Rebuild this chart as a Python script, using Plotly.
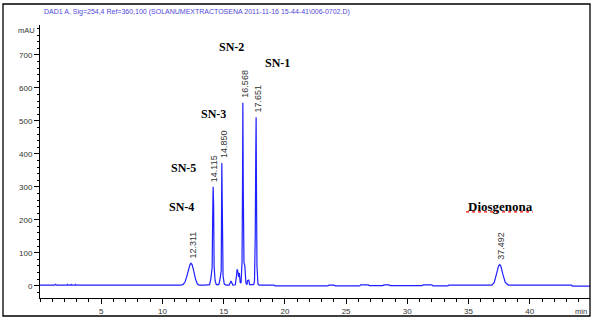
import plotly.graph_objects as go

# ---------------- data ----------------
time_min = [0, 1.2, 1.27, 1.35, 2.2, 2.25, 2.3, 2.5, 2.55, 2.6, 2.85, 2.9, 2.95,
            6.4, 6.5, 7.0, 7.1, 8.1, 8.2, 8.3, 9.9, 10.0, 10.4, 10.5, 11.5, 11.7,
            11.85, 12.0, 12.15, 12.25, 12.33, 12.42, 12.55, 12.7, 12.85, 13.0,
            13.5, 13.85, 13.95, 14.02, 14.06, 14.1, 14.14, 14.18, 14.22, 14.3, 14.4, 14.6,
            14.68, 14.74, 14.8, 14.85, 14.9, 14.95, 15.05, 15.2,
            15.45, 15.6, 15.75, 15.95, 16.05, 16.1, 16.18, 16.22, 16.28, 16.35, 16.42,
            16.47, 16.5, 16.54, 16.568, 16.6, 16.66, 16.73, 16.82, 16.9,
            16.95, 17.05, 17.12, 17.45, 17.52, 17.58, 17.62, 17.651, 17.68, 17.72, 17.8, 17.9,
            19.1, 19.2, 23.5, 23.6, 24.0, 24.1, 26.1, 26.2, 26.8, 26.9, 28.0, 28.1, 28.5, 28.6,
            31.2, 31.3, 32.0, 32.1, 33.3, 33.4, 36.9, 37.1, 37.3, 37.45, 37.55, 37.65, 37.8,
            38.0, 38.25, 43.4, 43.5, 45.0]
absorbance_mau = [1.5, 1.5, 4, 1.5, 1.5, 4, 1.5, 1.5, 4, 1.5, 1.5, 4, 1.5,
                  1.5, 3.5, 3.5, 1.5, 1.5, 3.5, 1.5, 1.5, 3, 3, 1.5, 1.5, 4,
                  12, 30, 52, 64, 68, 64, 46, 20, 5, 1.5,
                  2, 3, 20, 50, 55, 200, 300, 250, 60, 15, 3, 3,
                  15, 40, 45, 372, 200, 30, 5, 2,
                  2, 14, 2, 3, 30, 50, 40, 27, 38, 10, 8,
                  40, 70, 300, 555, 300, 70, 60, 8, 3,
                  15, 17, 3, 3, 15, 150, 391, 511, 300, 60, 5, 2,
                  1.5, -0.5, -0.5, 1.5, 1.5, -0.5, -0.5, 2.5, 2.5, 0.5, 0.5, 2.5, 2.5, 0.5,
                  0.5, 2.5, 2.5, -0.5, -0.5, 1.5, 2, 10, 38, 60, 64, 58, 35,
                  10, 2, 1.5, -1, -1]

peak_times = [12.311, 14.115, 14.850, 16.568, 17.651, 37.492]
peak_heights = [68, 300, 372, 555, 511, 64]
peak_labels = ["12.311", "14.115", "14.850", "16.568", "17.651", "37.492"]

compound_names = ["SN-2", "SN-1", "SN-3", "SN-5", "SN-4", "Diosgenona"]
compound_x = [15.6, 19.4, 14.17, 11.72, 11.56, 37.57]
compound_y = [724, 677, 522, 358, 239, 239]

x_tick_vals = [5, 10, 15, 20, 25, 30, 35, 40]
y_tick_vals = [0, 100, 200, 300, 400, 500, 600, 700]

title_text = "DAD1 A, Sig=254,4 Ref=360,100 (SOLANUMEXTRACTOSENA 2011-11-16 15-44-41\\006-0702.D)"

# ---------------- layout helpers ----------------
W, H = 595, 322
L, R, T, B = 40, 5, 25, 24
PW, PH = W - L - R, H - T - B


def px_x(px):
    return (px - L) / PW


def px_y(py):
    return (H - B - py) / PH


sans = "Liberation Sans, Arial, sans-serif"
serif = "Liberation Serif, Times New Roman, serif"

fig = go.Figure()
fig.add_trace(go.Scatter(x=time_min, y=absorbance_mau, mode="lines",
                         line=dict(color="#1f1fff", width=1.2),
                         hoverinfo="skip", showlegend=False))

annotations = []
for t, h, lab in zip(peak_times, peak_heights, peak_labels):
    annotations.append(dict(x=t, y=h, text=lab, textangle=-90, showarrow=False,
                            xanchor="center", yanchor="bottom", xshift=2, yshift=3,
                            font=dict(family=sans, size=9, color="#333333")))
for name, cx, cy in zip(compound_names, compound_x, compound_y):
    annotations.append(dict(x=cx, y=cy, text="<b>" + name + "</b>", showarrow=False,
                            xanchor="center", yanchor="middle",
                            font=dict(family=serif, size=12 if name != "Diosgenona" else 13,
                                      color="black")))
annotations.append(dict(xref="paper", yref="paper", x=px_x(41.5), y=px_y(12.5),
                        text=title_text, showarrow=False, xanchor="left", yanchor="middle",
                        font=dict(family=sans, size=7, color="#5048d8")))
annotations.append(dict(xref="paper", yref="paper", x=px_x(26), y=px_y(30),
                        text="mAU", showarrow=False, xanchor="center", yanchor="middle",
                        font=dict(family=sans, size=7.5, color="#333333")))
annotations.append(dict(xref="paper", yref="paper", x=px_x(589), y=px_y(311),
                        text="min", showarrow=False, xanchor="right", yanchor="middle",
                        font=dict(family=sans, size=7.5, color="#333333")))

shapes = [
    dict(type="rect", xref="paper", yref="paper", x0=px_x(3), x1=px_x(590),
         y0=px_y(316), y1=px_y(4), line=dict(color="black", width=1.3)),
    dict(type="line", xref="x", yref="y", x0=34.8, x1=40.25, y0=224, y1=224,
         line=dict(color="red", width=1.3, dash="dot")),
]

fig.update_layout(
    template="none",
    width=W, height=H,
    margin=dict(l=L, r=R, t=T, b=B, pad=0, autoexpand=False),
    paper_bgcolor="white", plot_bgcolor="white",
    annotations=annotations, shapes=shapes,
    xaxis=dict(range=[0, 44.92], automargin=False, showline=True, linecolor="black",
               linewidth=1, showgrid=False, zeroline=False, ticks="outside", ticklen=5,
               tickcolor="black", tickwidth=1, tickvals=x_tick_vals,
               tickfont=dict(family=sans, size=8, color="#333333"),
               minor=dict(dtick=1, ticks="outside", ticklen=3, tickcolor="black",
                          showgrid=False)),
    yaxis=dict(range=[-37.3, 791], automargin=False, showline=True, linecolor="black",
               linewidth=1, showgrid=False, zeroline=False, ticks="outside", ticklen=5,
               tickcolor="black", tickwidth=1, tickvals=y_tick_vals,
               tickfont=dict(family=sans, size=8, color="#333333"),
               minor=dict(dtick=20, ticks="outside", ticklen=2.5, tickcolor="black",
                          showgrid=False)),
)

fig.write_html("out.html", config={"displayModeBar": False},
               post_script="document.body.style.margin='0px';document.body.style.overflow='hidden';")
